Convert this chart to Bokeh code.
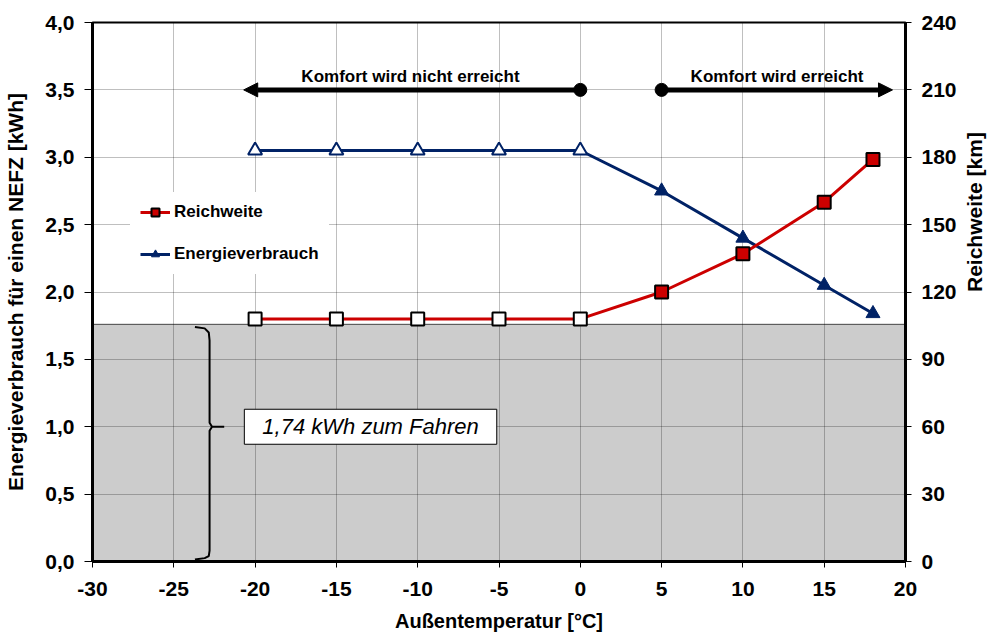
import math
from bokeh.plotting import figure
from bokeh.models import (Range1d, LinearAxis, CustomJSTickFormatter, Legend, LegendItem,
                          Arrow, NormalHead, Label)
from bokeh.embed import file_html
from bokeh.resources import INLINE

# ---------------- data ----------------
temps = [-20, -15, -10, -5, 0, 5, 10, 15, 18]
energie_kwh = [3.05, 3.05, 3.05, 3.05, 3.05, 2.75, 2.40, 2.05, 1.84]
reichweite_km = [108, 108, 108, 108, 108, 120, 137, 160, 179]
komfort_erreicht = [False, False, False, False, False, True, True, True, True]

x_ticks = [-30, -25, -20, -15, -10, -5, 0, 5, 10, 15, 20]
y_ticks = [0, 0.5, 1.0, 1.5, 2.0, 2.5, 3.0, 3.5, 4.0]
km_ticks = [0, 30, 60, 90, 120, 150, 180, 210, 240]

drive_kwh = 1.76          # grey band (energy for driving)
drive_label = "1,74 kWh zum Fahren"
komfort_level = 3.5
komfort_nicht = [-20.7, 0]   # arrow tip, dot
komfort_ja = [5, 19.2]       # dot, arrow tip

FONT = "Liberation Sans"
RED = "#cc0000"
NAVY = "#002266"

open_t = [t for t, k in zip(temps, komfort_erreicht) if not k]
fill_t = [t for t, k in zip(temps, komfort_erreicht) if k]
open_e = [e for e, k in zip(energie_kwh, komfort_erreicht) if not k]
fill_e = [e for e, k in zip(energie_kwh, komfort_erreicht) if k]
open_r = [r for r, k in zip(reichweite_km, komfort_erreicht) if not k]
fill_r = [r for r, k in zip(reichweite_km, komfort_erreicht) if k]

p = figure(width=1000, height=634, x_range=Range1d(-30, 20), y_range=Range1d(0, 4),
           output_backend="svg", toolbar_location=None,
           min_border_left=92, min_border_right=94, min_border_top=22, min_border_bottom=72)
p.extra_y_ranges = {"km": Range1d(0, 240)}
p.background_fill_color = "white"
p.border_fill_color = "white"
p.outline_line_color = "black"
p.outline_line_width = 2

# grey band below grid
p.quad(left=x_ticks[0], right=x_ticks[-1], bottom=0, top=drive_kwh,
       fill_color="#cccccc", line_color="#444444", line_width=1, level="image")

# grids
p.xgrid.ticker = x_ticks
p.ygrid.ticker = y_ticks
for g in (p.xgrid, p.ygrid):
    g.grid_line_color = "black"
    g.grid_line_alpha = 0.25
    g.grid_line_width = 1

# axes
p.xaxis.ticker = x_ticks
p.xaxis.formatter = CustomJSTickFormatter(code="return tick.toString();")
p.yaxis.ticker = y_ticks
p.yaxis.formatter = CustomJSTickFormatter(code="return tick.toFixed(1).replace('.', ',');")
p.xaxis.axis_label = "Außentemperatur [°C]"
p.yaxis.axis_label = "Energieverbrauch für einen NEFZ [kWh]"

ax_r = LinearAxis(y_range_name="km", ticker=km_ticks, axis_label="Reichweite [km]")
ax_r.axis_label_orientation = math.pi / 2
p.add_layout(ax_r, "right")

for ax in (p.xaxis[0], p.yaxis[0], ax_r):
    ax.axis_line_color = "black"
    ax.axis_line_width = 3
    ax.major_tick_line_color = "black"
    ax.major_tick_line_width = 1
    ax.major_tick_in = 0
    ax.minor_tick_line_color = None
    ax.major_label_text_font = FONT
    ax.major_label_text_font_style = "bold"
    ax.major_label_text_font_size = "21px"
    ax.major_label_text_color = "black"
    ax.axis_label_text_font = FONT
    ax.axis_label_text_font_style = "bold"
    ax.axis_label_text_font_size = "21px"
    ax.axis_label_text_color = "black"

p.xaxis.axis_label_text_font_size = "20px"
p.yaxis.major_tick_out = 8
p.yaxis.major_label_standoff = 10
p.yaxis.axis_label_standoff = 15
p.xaxis.major_tick_out = 6
p.xaxis.major_label_standoff = 14
p.xaxis.axis_label_standoff = 11
ax_r.major_tick_out = 6
ax_r.major_label_standoff = 10
ax_r.axis_label_standoff = 15

# series: Energieverbrauch
e_line = p.line(temps, energie_kwh, line_color=NAVY, line_width=3)
p.scatter(open_t, open_e, marker="triangle", size=14, fill_color="white",
          line_color=NAVY, line_width=2)
e_fill = p.scatter(fill_t, fill_e, marker="triangle", size=14, fill_color=NAVY,
                   line_color=NAVY, line_width=1)

# series: Reichweite
r_line = p.line(temps, reichweite_km, line_color=RED, line_width=3, y_range_name="km")
p.scatter(open_t, open_r, marker="square", size=13, fill_color="white",
          line_color="black", line_width=2, y_range_name="km")
r_fill = p.scatter(fill_t, fill_r, marker="square", size=13, fill_color=RED,
                   line_color="black", line_width=2, y_range_name="km")

# brace
bx = -22.8
brace_x = [bx - 0.9, bx - 0.3, bx - 0.05, bx, bx, bx + 0.15, bx + 0.9, bx + 0.15, bx, bx, bx - 0.05, bx - 0.3, bx - 0.9]
brace_y = [drive_kwh - 0.02, drive_kwh - 0.03, drive_kwh - 0.06, drive_kwh - 0.12, 1.03, 1.0, 1.0, 1.0, 0.97, 0.08, 0.04, 0.025, 0.015]
p.line(brace_x, brace_y, line_color="black", line_width=2)

# text box with shadow
p.add_layout(Label(x=-12.9, y=1.0, text=drive_label, text_font=FONT, text_font_style="italic",
                   text_font_size="22px", text_align="center", text_baseline="middle",
                   text_alpha=0, background_fill_color="#777777", background_fill_alpha=0.6,
                   padding=dict(x=18, y=5), x_offset=3, y_offset=-3))
p.add_layout(Label(x=-12.9, y=1.0, text=drive_label, text_font=FONT, text_font_style="italic",
                   text_font_size="22px", text_align="center", text_baseline="middle",
                   text_color="black", background_fill_color="white",
                   border_line_color="black", border_line_width=1,
                   padding=dict(x=18, y=5)))

# comfort arrows
p.add_layout(Arrow(x_start=komfort_nicht[1], y_start=komfort_level, x_end=komfort_nicht[0],
                   y_end=komfort_level, line_width=5, line_color="black",
                   end=NormalHead(size=14, fill_color="black", line_color="black")))
p.add_layout(Arrow(x_start=komfort_ja[0], y_start=komfort_level, x_end=komfort_ja[1],
                   y_end=komfort_level, line_width=5, line_color="black",
                   end=NormalHead(size=14, fill_color="black", line_color="black")))
p.scatter([komfort_nicht[1], komfort_ja[0]], [komfort_level, komfort_level], marker="circle",
          size=13, fill_color="black", line_color="black")
p.add_layout(Label(x=-10.3, y=3.6, text="Komfort  wird nicht erreicht", text_font=FONT,
                   text_font_style="bold", text_font_size="17px", text_align="center",
                   text_baseline="middle", text_color="black"))
p.add_layout(Label(x=12.1, y=3.6, text="Komfort wird erreicht", text_font=FONT,
                   text_font_style="bold", text_font_size="17px", text_align="center",
                   text_baseline="middle", text_color="black"))

# legend
legend = Legend(items=[LegendItem(label="Reichweite", renderers=[r_line, r_fill]),
                       LegendItem(label="Energieverbrauch", renderers=[e_line, e_fill])],
                location=(38, 287), orientation="vertical",
                label_text_font=FONT, label_text_font_style="bold", label_text_font_size="17px",
                label_text_color="black", glyph_width=30, glyph_height=20, label_height=20,
                spacing=22, padding=10, margin=0, label_standoff=4,
                border_line_alpha=0, background_fill_color="white", background_fill_alpha=1)
p.add_layout(legend, "center")

open("out.html", "w").write(file_html(p, INLINE))
